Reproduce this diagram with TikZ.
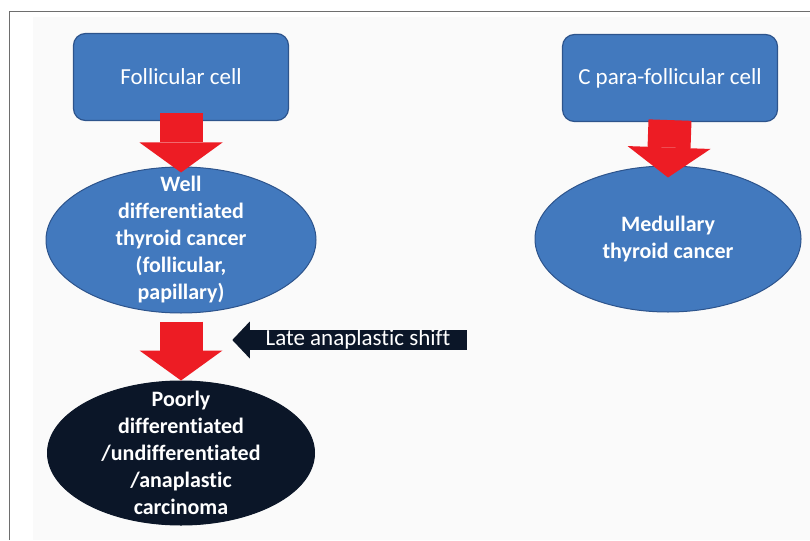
\documentclass[tikz,border=0pt]{standalone}
\usepackage{fontspec}
\setmainfont[Ligatures=NoCommon]{Carlito}
\usetikzlibrary{shapes.geometric,arrows.meta,calc}

\definecolor{cellblue}{RGB}{66,121,190}
\definecolor{celledge}{RGB}{45,84,140}
\definecolor{arrowred}{RGB}{237,28,36}
\definecolor{darknavy}{RGB}{11,22,40}
\definecolor{framegray}{RGB}{110,110,110}
\definecolor{pagegray}{RGB}{250,250,250}

\tikzset{
  cell/.style={draw=celledge, line width=1.2pt, fill=cellblue, rounded corners=12pt,
    minimum width=215pt, minimum height=87pt, text=white, font=\fontsize{23}{27}\selectfont},
  tumour/.style={ellipse, draw=celledge, line width=1pt, fill=cellblue, inner sep=0pt,
    text=white, align=center, font=\bfseries\fontsize{22}{27}\selectfont},
  redarrow/.style={arrowred, line width=43pt, -{Triangle[width=83pt,length=30pt,line width=0pt]}},
}

\begin{document}
\begin{tikzpicture}[x=1pt, y=-1pt]
    \useasboundingbox (0,0) rectangle (810,540);
    \fill[pagegray] (33,17) rectangle (810,540);
    \draw[framegray, line width=1.5pt] (9.5,540) -- (9.5,11.5) -- (810,11.5);

    \node[cell] (fc) at (181,77) {Follicular cell};
    \node[cell] (cc) at (670,78) {C para-follicular cell};
    \node[tumour, inner ysep=-45pt, minimum width=270pt, minimum height=146pt] (wd) at (181,240)
      {Well\\differentiated\\thyroid cancer\\(follicular,\\papillary)};
    \node[tumour, minimum width=266pt, minimum height=146pt] (mtc) at (668,239)
      {Medullary\\thyroid cancer};
    \node[tumour, fill=darknavy, draw=darknavy, inner ysep=-45pt, minimum width=267pt, minimum height=144pt] (pd) at (181,453)
      {Poorly\\differentiated\\/undifferentiated\\/anaplastic\\carcinoma};

    % late shift label with its arrow head
    \node[fill=darknavy, text=white, inner sep=0pt, minimum width=217pt, text height=15pt, text depth=5pt,
      font=\fontsize{23}{24}\selectfont] (shift) at (358,340) {Late anaplastic shift\hspace{5pt}};
    \fill[darknavy] ($(shift.west)+(0.5,-18.5)$) -- ($(shift.west)+(-17,0)$) -- ($(shift.west)+(0.5,18.5)$) -- cycle;

    \draw[redarrow] ($(fc.south)+(0,-8)$) to ($(wd.north)+(0,6)$);
    \draw[redarrow] ($(cc.south)+(0,-2)$) to ($(mtc.north)+(0,12)$);
    \draw[redarrow] ($(wd.south)+(0,8)$) to (pd.north);
\end{tikzpicture}
\end{document}
